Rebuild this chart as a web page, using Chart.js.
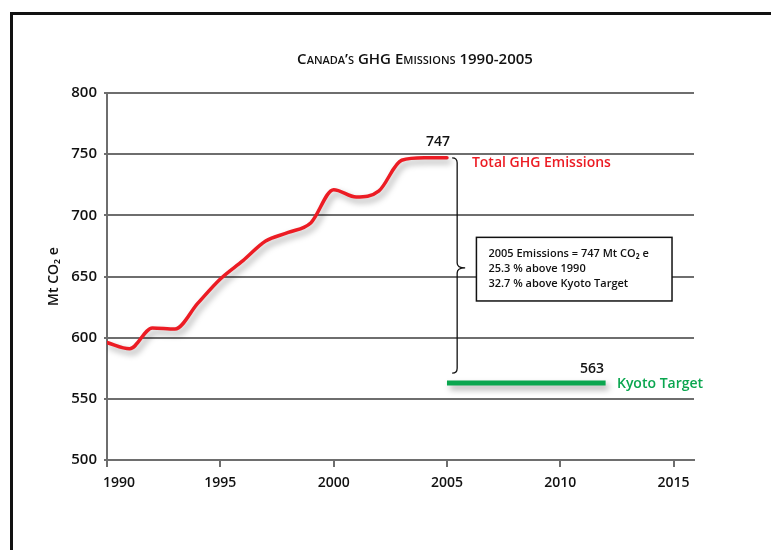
<!DOCTYPE html>
<html>
<head>
<meta charset="utf-8">
<script src="https://cdn.jsdelivr.net/npm/chart.js@4.4.1/dist/chart.umd.min.js"></script>
<style>
    html, body { margin: 0; padding: 0; background: #fff; }
    #wrap { position: relative; width: 771px; height: 550px; overflow: hidden; }
    #frame {
        position: absolute; left: 10px; top: 12px; width: 900px; height: 700px;
        border-left: 3px solid #111; border-top: 3px solid #111;
    }
    #chart { position: absolute; left: 0; top: 0; }
</style>
</head>
<body>
<div id="wrap">
    <div id="frame"></div>
    <canvas id="chart" width="771" height="550"></canvas>
</div>
<script>
// Data
const years = [1990, 1991, 1992, 1993, 1994, 1995, 1996, 1997, 1998, 1999, 2000, 2001, 2002, 2003, 2004, 2005];
const emissions = [596, 591, 608, 607, 628, 648, 663, 679, 686, 694, 721, 715, 720, 745, 747, 747];
const kyotoYears = [2005, 2012];
const kyotoValues = [563, 563];
const xTicks = [1990, 1995, 2000, 2005, 2010, 2015];
const yTicks = [500, 550, 600, 650, 700, 750, 800];

const chartTitle = "Canada\u2019s GHG Emissions 1990-2005";
const yTitle = "Mt CO\u2082 e";
const totalLabel = "Total GHG Emissions";
const kyotoLabel = "Kyoto Target";
const boxLines = [
    "2005 Emissions = 747 Mt CO\u2082 e",
    "25.3 % above 1990",
    "32.7 % above Kyoto Target"
];

const RED = "#ec1c24";
const GREEN = "#0aa64f";
const GRID = "#6e6e6e";
const FONT = "'Open Sans', 'DejaVu Sans', sans-serif";

// Drop shadow under the two lines
const shadowPlugin = {
    id: "shadow",
    beforeDatasetDraw(chart) {
        const ctx = chart.ctx;
        ctx.save();
        ctx.shadowColor = "rgba(0,0,0,0.35)";
        ctx.shadowBlur = 6;
        ctx.shadowOffsetX = 3;
        ctx.shadowOffsetY = 4;
    },
    afterDatasetDraw(chart) {
        chart.ctx.restore();
    }
};

// Title, labels, brace and text box
const notesPlugin = {
    id: "notes",
    afterDraw(chart) {
        const ctx = chart.ctx;
        const x = chart.scales.x;
        const y = chart.scales.y;
        const last = emissions[emissions.length - 1];
        const kyoto = kyotoValues[0];

        ctx.save();
        // title in small caps
        ctx.font = "600 15px " + FONT;
        ctx.fontVariantCaps = "small-caps";
        ctx.fillStyle = "#111";
        ctx.textAlign = "center";
        ctx.textBaseline = "middle";
        ctx.fillText(chartTitle, 415, 60);
        ctx.fontVariantCaps = "normal";

        // end values
        ctx.font = "600 14px " + FONT;
        ctx.fillStyle = "#111";
        ctx.textBaseline = "alphabetic";
        ctx.fillText(String(last), x.getPixelForValue(2004.6), y.getPixelForValue(last) - 12);
        ctx.fillText(String(kyoto), x.getPixelForValue(2011.4), y.getPixelForValue(kyoto) - 10);

        // series labels
        ctx.font = "600 14px " + FONT;
        ctx.textAlign = "left";
        ctx.fillStyle = RED;
        ctx.fillText(totalLabel, x.getPixelForValue(2006.1), y.getPixelForValue(last) + 9);
        ctx.fillStyle = GREEN;
        ctx.fillText(kyotoLabel, x.getPixelForValue(2012.5), y.getPixelForValue(kyoto) + 5);

        // curly brace
        const bx = x.getPixelForValue(2005.45);
        const top = y.getPixelForValue(last);
        const bot = y.getPixelForValue(571);
        const mid = y.getPixelForValue(657);
        const w = 5;
        ctx.strokeStyle = "#111";
        ctx.lineWidth = 1.3;
        ctx.beginPath();
        ctx.moveTo(bx - w, top);
        ctx.quadraticCurveTo(bx, top, bx, top + w);
        ctx.lineTo(bx, mid - w);
        ctx.quadraticCurveTo(bx, mid, bx + w + 3, mid);
        ctx.quadraticCurveTo(bx, mid, bx, mid + w);
        ctx.lineTo(bx, bot - w);
        ctx.quadraticCurveTo(bx, bot, bx - w, bot);
        ctx.stroke();

        // text box
        const l = x.getPixelForValue(2006.3);
        const r = x.getPixelForValue(2014.93);
        const t = y.getPixelForValue(682);
        const b = y.getPixelForValue(630);
        ctx.fillStyle = "#fff";
        ctx.fillRect(l, t, r - l, b - t);
        ctx.lineWidth = 1.5;
        ctx.strokeRect(l, t, r - l, b - t);
        ctx.fillStyle = "#111";
        ctx.font = "600 11px " + FONT;
        ctx.textBaseline = "middle";
        boxLines.forEach((line, i) => {
            ctx.fillText(line, l + 12, t + 17 + i * 15);
        });
        ctx.restore();
    }
};

const lineData = years.map((yr, i) => ({ x: yr, y: emissions[i] }));
const kyotoData = kyotoYears.map((yr, i) => ({ x: yr, y: kyotoValues[i] }));

new Chart(document.getElementById("chart"), {
    type: "line",
    data: {
        datasets: [{
            label: totalLabel,
            data: lineData,
            borderColor: RED,
            borderWidth: 3.5,
            pointRadius: 0,
            cubicInterpolationMode: "monotone",
            borderCapStyle: "round",
            borderJoinStyle: "round"
        }, {
            label: kyotoLabel,
            data: kyotoData,
            borderColor: GREEN,
            borderWidth: 5,
            pointRadius: 0
        }]
    },
    options: {
        responsive: false,
        animation: false,
        layout: { padding: { top: 93, right: 77, left: 0, bottom: 0 } },
        plugins: {
            legend: { display: false },
            tooltip: { enabled: false },
            title: { display: false }
        },
        scales: {
            x: {
                type: "linear",
                min: 1990,
                max: 2015.9,
                afterBuildTicks: s => { s.ticks = xTicks.map(v => ({ value: v })); },
                afterFit: s => { s.height = 90; },
                ticks: {
                    color: "#111",
                    font: { family: FONT, size: 14, weight: 600 },
                    padding: 8,
                    callback: v => (v === 1990 ? "\u2007\u2007\u2007" + v : String(v))
                },
                grid: { drawOnChartArea: false, drawTicks: true, tickLength: 7, color: GRID, lineWidth: 2 },
                border: { color: GRID, width: 2 }
            },
            y: {
                min: 500,
                max: 800,
                afterBuildTicks: s => { s.ticks = yTicks.map(v => ({ value: v })); },
                afterFit: s => { s.width = 107; },
                ticks: {
                    color: "#111",
                    font: { family: FONT, size: 15, weight: 600 },
                    padding: 7
                },
                title: {
                    display: true,
                    text: yTitle,
                    color: "#111",
                    font: { family: FONT, size: 14, weight: 600 },
                    padding: { top: 46, bottom: 0 }
                },
                grid: { color: GRID, lineWidth: 2, tickLength: 3 },
                border: { color: GRID, width: 2 }
            }
        }
    },
    plugins: [shadowPlugin, notesPlugin]
});
</script>
</body>
</html>
